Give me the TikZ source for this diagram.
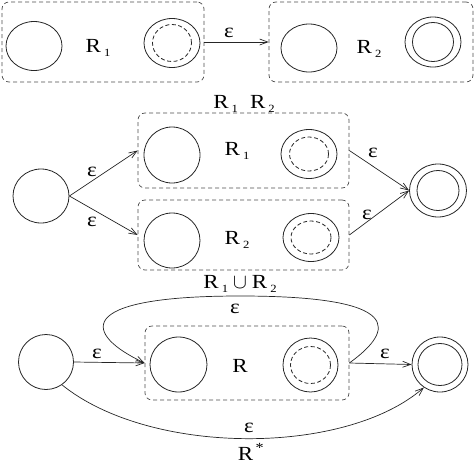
\documentclass[tikz,border=0pt]{standalone}
\usepackage{fontspec}
\setmainfont{Liberation Serif}[FakeStretch=1.15]
\usetikzlibrary{shapes.geometric,arrows.meta}
\newcommand\Rsub[1]{R\kern3pt\raisebox{-4pt}{\fontsize{11}{12}\selectfont #1}}
\begin{document}
\begin{tikzpicture}[x=1pt,y=-1pt, font=\fontsize{20}{23}\selectfont,
  st/.style={ellipse, draw=black!85, line width=0.8pt, minimum width=56pt, minimum height=53pt, inner sep=0pt},
  inn/.style={ellipse, draw=black!85, line width=0.8pt, minimum width=42pt, minimum height=40pt, inner sep=0pt},
  indash/.style={ellipse, draw=black!85, line width=0.8pt, minimum width=39pt, minimum height=36pt, inner sep=0pt, dash pattern=on 4pt off 2.5pt},
  boxd/.style={draw=black!70, rounded corners=7pt, dash pattern=on 4pt off 3pt, line width=0.7pt, inner sep=0pt},
  arr/.style={draw=black!85, -{Straight Barb[length=8pt,width=6pt]}, line width=0.7pt},
  lab/.style={inner sep=0pt, anchor=base}]
\useasboundingbox (0,0) rectangle (474,464);

% ---------- top row: concatenation parts ----------
\node[boxd, minimum width=202pt, minimum height=80pt] (b1) at (103,42) {};
\node[st, minimum height=49pt] (a1) at (34,46) {};
\node[lab] (l1) at (98,52) {\Rsub{1}};
\node[st, minimum height=49pt] (f1) at (172,43) {};
\node[indash, minimum height=37pt] (f1i) at (172,43) {};

\node[boxd, minimum width=204pt, minimum height=80pt] (b2) at (371,42) {};
\node[st, minimum height=48pt] (a2) at (309,48) {};
\node[lab] (l2) at (369,53) {\Rsub{2}};
\node[st, minimum height=50pt] (f2) at (433,42) {};
\node[inn, minimum width=41pt, minimum height=39pt] (f2i) at (433,42) {};

\draw[arr] (b1.east) -- (b2.west);
\node[lab] (e1) at (229,37) {ε};

% ---------- middle: union ----------
\node[lab] (t1) at (244,108) {\Rsub{1}\hspace{12pt}\Rsub{2}};

\node[boxd, minimum width=211pt, minimum height=75pt] (bR1) at (243.5,150.5) {};
\node[st, minimum height=56pt] (a3) at (172,155) {};
\node[lab] (l3) at (237,155) {\Rsub{1}};
\node[st, minimum height=49pt] (f3) at (309,154) {};
\node[indash, minimum height=34pt] (f3i) at (309,154) {};

\node[boxd, minimum width=211pt, minimum height=70pt] (bR2) at (243.5,235) {};
\node[st, minimum height=55pt] (a4) at (172,240.5) {};
\node[lab] (l4) at (237,244) {\Rsub{2}};
\node[st, minimum height=48pt] (f4) at (311,237.5) {};
\node[indash, minimum width=40pt, minimum height=33pt] (f4i) at (311,237.5) {};

\node[st, minimum height=54pt] (sm) at (41,196) {};
\node[st, minimum width=57pt, minimum height=53pt] (fm) at (438,190.5) {};
\node[inn] (fmi) at (438,190.5) {};

\draw[arr] (sm.east) -- (bR1.west);
\draw[arr] (sm.east) -- (bR2.west);
\draw[arr] (bR1.east) -- (fm.west);
\draw[arr] (bR2.east) -- (fm.west);
\node[lab] (e2) at (92,176) {ε};
\node[lab] (e3) at (92,226) {ε};
\node[lab] (e4) at (373,157) {ε};
\node[lab] (e5) at (367,219) {ε};

\node[lab] (t2) at (240,288) {\Rsub{1}\hspace{5pt}$\cup$\hspace{5pt}\Rsub{2}};

% ---------- bottom: star ----------
\node[boxd, minimum width=204pt, minimum height=74pt] (bR) at (247,363) {};
\node[st, minimum width=57pt, minimum height=55pt] (a5) at (178.5,364.5) {};
\node[lab] (l5) at (240,372) {R};
\node[st, minimum width=55pt, minimum height=54pt] (f5) at (310.5,365) {};
\node[indash, minimum width=40pt, minimum height=37pt] (f5i) at (310.5,365) {};

\node[st, minimum width=55pt, minimum height=55pt] (sb) at (46,362) {};
\node[st, minimum width=56pt, minimum height=55pt] (fb) at (440,364.5) {};
\node[inn, minimum width=44pt, minimum height=42pt] (fbi) at (440,364.5) {};

\coordinate (top) at (240,296);
\draw[arr] (sb.east) -- (bR.west);
\draw[arr] (bR.east) -- (fb.west);
\draw[arr] (bR.east) .. controls (395,330) and (405,296) .. (top)
                     .. controls (70,296) and (85,335) .. (bR.west);
\draw[arr] (sb.-55) .. controls (150,456) and (345,456) .. (fb.-125);

\node[lab] (e6) at (97,358) {ε};
\node[lab] (e7) at (385,358) {ε};
\node[lab] (e8) at (235,313) {ε};
\node[lab] (e9) at (249,432) {ε};
\node[lab] (t3) at (251,460) {R\textsuperscript{\,*}};
\end{tikzpicture}
\end{document}
